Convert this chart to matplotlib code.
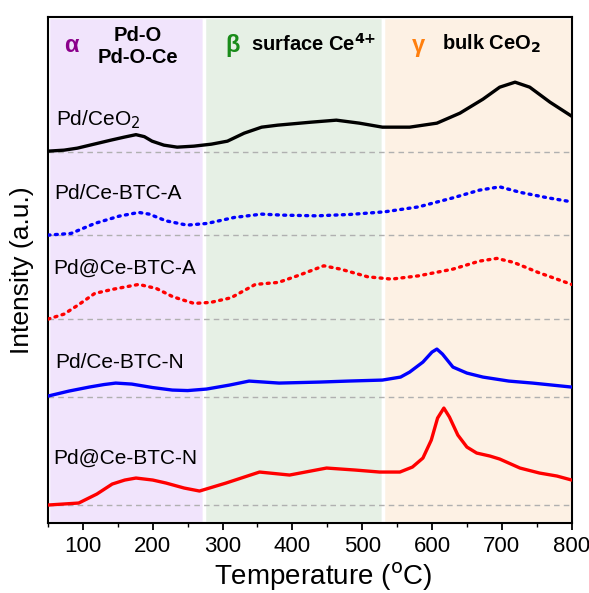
"""H2-TPR profiles of the Pd/Ce catalysts."""

import matplotlib

matplotlib.use("Agg")
import matplotlib.pyplot as plt
from matplotlib.ticker import MultipleLocator

plt.rcParams["font.family"] = ["Liberation Sans", "DejaVu Sans"]

# data: intensity above each baseline (a.u.)
T_CEO2 = [50, 73, 92, 116, 140, 159, 176, 188, 199, 216, 235, 259, 284, 307, 331,
          356, 379, 427, 463, 496, 529, 568, 607, 640, 673, 697, 719, 740, 769, 800]
I_CEO2 = [1, 2, 4, 8, 12, 15, 17.5, 15.5, 11, 7, 5, 6, 8, 11, 19,
          25, 27, 30, 32, 29, 25, 25, 29, 39, 53, 65, 70, 65, 50, 36]

T_BTC_A = [50, 83, 117, 152, 180, 195, 219, 249, 278, 317, 356, 386, 435, 483,
           532, 581, 630, 668, 697, 727, 766, 800]
I_BTC_A = [0, 1.7, 11.7, 19, 22.7, 21, 14.3, 10, 11.7, 17.7, 21, 20, 19.3, 20.7,
           23.3, 28.3, 37.3, 45, 48.3, 42.7, 37.3, 33.3]

T_AT_A = [50, 73, 93, 117, 142, 180, 205, 229, 259, 283, 312, 347, 380, 410,
          445, 469, 508, 542, 581, 630, 668, 693, 717, 752, 800]
I_AT_A = [0, 5, 14, 25.7, 29.7, 34.7, 30.7, 22.3, 15.7, 16.7, 21.3, 34.7, 36.7, 44,
          53.3, 50, 42.3, 40, 43.3, 50, 58, 60.7, 56.7, 46.7, 34.7]

T_BTC_N = [50, 80, 109, 130, 147, 170, 200, 228, 250, 277, 310, 338, 381, 439, 480,
           529, 555, 568, 587, 600, 607, 615, 630, 650, 673, 710, 744, 800]
I_BTC_N = [1, 6, 10, 12.5, 14, 13, 9.5, 7, 6.5, 8, 12, 16, 14, 15, 16,
           17, 20, 25, 35, 45, 48, 43, 30, 24, 20, 16, 14, 10]

T_AT_N = [50, 94, 120, 142, 160, 176, 200, 219, 245, 267, 305, 353, 396, 449, 490,
          525, 554, 572, 587, 599, 608, 617, 625, 637, 650, 664, 683, 697, 726,
          754, 779, 800]
I_AT_N = [0, 2, 11, 21, 25, 27, 25, 22, 17, 14, 22, 33, 30, 37, 35,
          33, 33, 38, 47, 65, 87, 97, 88, 70, 58, 52, 49, 46, 37,
          32, 29, 25]

SAMPLES = ["Pd/CeO$_2$", "Pd/Ce-BTC-A", "Pd@Ce-BTC-A", "Pd/Ce-BTC-N", "Pd@Ce-BTC-N"]
BASELINES = [371, 288, 204, 126, 18]

REGIONS = [(50, 273, "#f1e4fc"), (273, 530, "#e6f0e5"), (530, 800, "#fdf1e4")]


def main():
    fig = plt.figure(figsize=(5.89, 5.93), dpi=100)
    ax = fig.add_axes([0.0815, 0.118, 0.889, 0.853])

    for x0, x1, color in REGIONS:
        ax.axvspan(x0, x1, facecolor=color, edgecolor="white", linewidth=2.5, zorder=0)

    series = [
        (T_CEO2, I_CEO2, "black", "-"),
        (T_BTC_A, I_BTC_A, "#0000ff", (0, (0.6, 1.6))),
        (T_AT_A, I_AT_A, "#ff0000", (0, (0.6, 1.6))),
        (T_BTC_N, I_BTC_N, "#0000ff", "-"),
        (T_AT_N, I_AT_N, "#ff0000", "-"),
    ]
    label_pos = [(62, 32), (59, 42), (57, 51), (60, 35), (57, 47)]
    for (temps, vals, color, ls), base, name, (lx, dy) in zip(series, BASELINES, SAMPLES, label_pos):
        ax.axhline(base, color="#b0b0b0", linestyle=(0, (4, 3)), linewidth=1.0, zorder=1)
        ax.plot(temps, [v + base for v in vals], color=color, linestyle=ls,
                linewidth=2.4, solid_capstyle="round", dash_capstyle="round",
                solid_joinstyle="round", zorder=3)
        ax.text(lx, base + dy, name, fontsize=15, ha="left", va="center", zorder=4)

    # region headers
    ax.text(84, 478, "α", color="#8b008b", fontsize=17, fontweight="bold",
            ha="center", va="center")
    ax.text(179, 488, "Pd-O", fontsize=14.5, fontweight="bold", ha="center", va="center")
    ax.text(179, 466, "Pd-O-Ce", fontsize=14.5, fontweight="bold", ha="center", va="center")
    ax.text(315, 478, "β", color="#1a8c1a", fontsize=17, fontweight="bold",
            ha="center", va="center")
    ax.text(341, 479, "surface Ce$^{\\mathbf{4{+}}}$", fontsize=14.5, fontweight="bold",
            ha="left", va="center")
    ax.text(580, 478, "γ", color="#ff7f0e", fontsize=17, fontweight="bold",
            ha="center", va="center")
    ax.text(614, 479, "bulk CeO$_\\mathbf{2}$", fontsize=14.5, fontweight="bold",
            ha="left", va="center")

    ax.set_xlim(50, 800)
    ax.set_ylim(0, 506)
    ax.xaxis.set_major_locator(MultipleLocator(100))
    ax.xaxis.set_minor_locator(MultipleLocator(50))
    ax.tick_params(axis="x", which="major", direction="out", length=5, width=1.3,
                   labelsize=16, top=False, pad=4)
    ax.tick_params(axis="x", which="minor", direction="out", length=3, width=1.0, top=False)
    ax.set_yticks([])
    for spine in ax.spines.values():
        spine.set_linewidth(1.5)

    ax.set_xlabel("Temperature ($^{\\mathrm{o}}$C)", fontsize=20, labelpad=3)
    ax.xaxis.label.set_x(0.525)
    ax.set_ylabel("Intensity (a.u.)", fontsize=19, labelpad=10)

    fig.savefig("out.png", dpi=100)
    plt.close(fig)


if __name__ == "__main__":
    main()
